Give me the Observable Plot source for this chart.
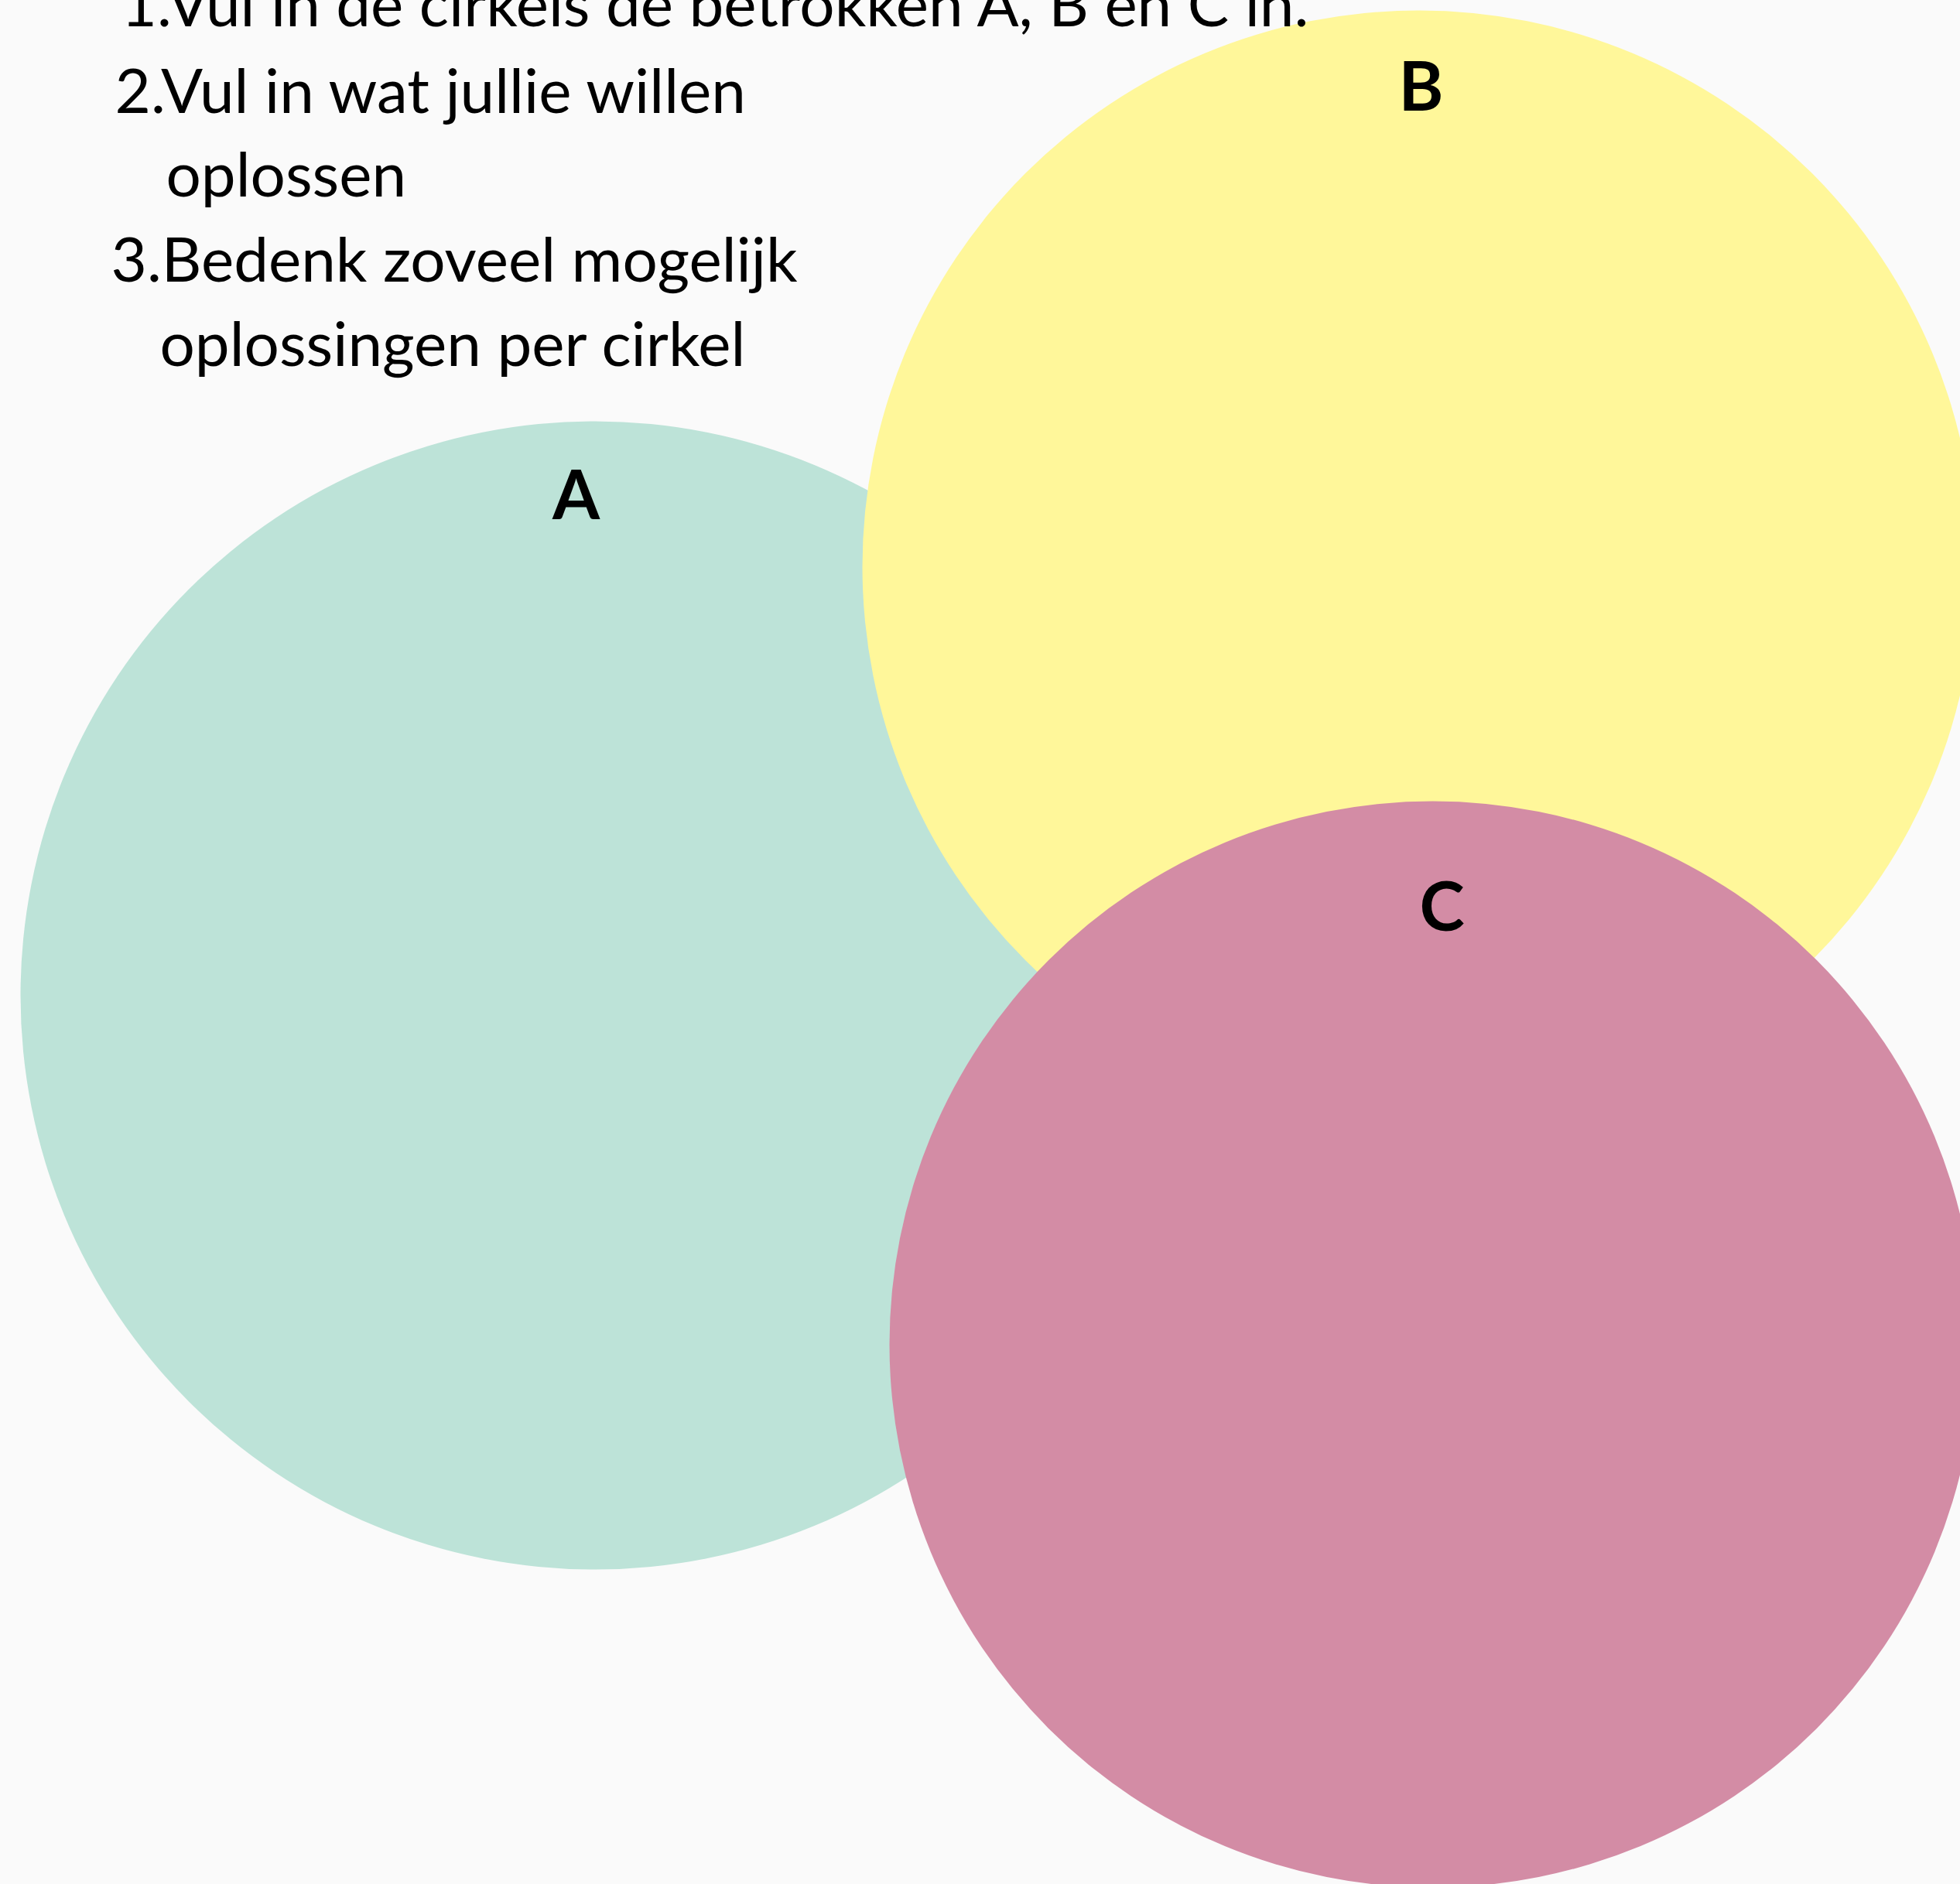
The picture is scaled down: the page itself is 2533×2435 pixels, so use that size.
<!DOCTYPE html>
<html>
<head>
<meta charset="utf-8">
<script src="https://cdn.jsdelivr.net/npm/d3@7"></script>
<script src="https://cdn.jsdelivr.net/npm/@observablehq/plot@0.6"></script>
<style>
  html, body { margin: 0; padding: 0; background: #fafafa; }
  #chart svg { display: block; }
</style>
</head>
<body>
<div id="chart"></div>
<script>
// Circles (Venn-style sets)
const setNames = ["A", "B", "C"];
const setCx = [768, 1833, 1851];
const setCy = [1286, 732, 1737];
const setR = [742, 719, 702];
const setColors = ["#bde3d8", "#fff79a", "#d38ca5"];

// Set label positions (centre x, baseline y)
const labelX = [744, 1836, 1863];
const labelY = [670, 142, 1202];

// Instruction lines
const instrLines = [
  "1.Vul in de cirkels de betrokken A, B en C in.",
  "2.Vul in wat jullie willen",
  "oplossen",
  "3.Bedenk zoveel mogelijk",
  "oplossingen per cirkel"
];
const instrX = [156, 148, 214, 143, 206];
const instrY = [33, 145, 253, 363, 472];

const W = 2533, H = 2435;

const circles = setNames.map((n, i) => ({name: n, x: setCx[i], y: setCy[i], r: setR[i], color: setColors[i], lx: labelX[i], ly: labelY[i]}));
const instr = instrLines.map((t, i) => ({text: t, x: instrX[i], y: instrY[i]}));

const chart = Plot.plot({
  width: W,
  height: H,
  margin: 0,
  style: {background: "#fafafa"},
  x: {domain: [0, W], axis: null},
  y: {domain: [H, 0], axis: null},
  r: {type: "identity"},
  marks: [
    Plot.dot(circles, {x: "x", y: "y", r: "r", fill: "color", stroke: null}),
    Plot.text(circles, {x: "lx", y: "ly", text: "name", fontSize: 88, fontWeight: "bold", fontFamily: "Lato", fill: "#000", textAnchor: "middle", lineAnchor: "bottom"}),
    Plot.text(instr, {x: "x", y: "y", text: "text", fontSize: 80, fontFamily: "Lato", fill: "#000", textAnchor: "start", lineAnchor: "bottom"})
  ]
});
document.getElementById("chart").appendChild(chart);
</script>
</body>
</html>
